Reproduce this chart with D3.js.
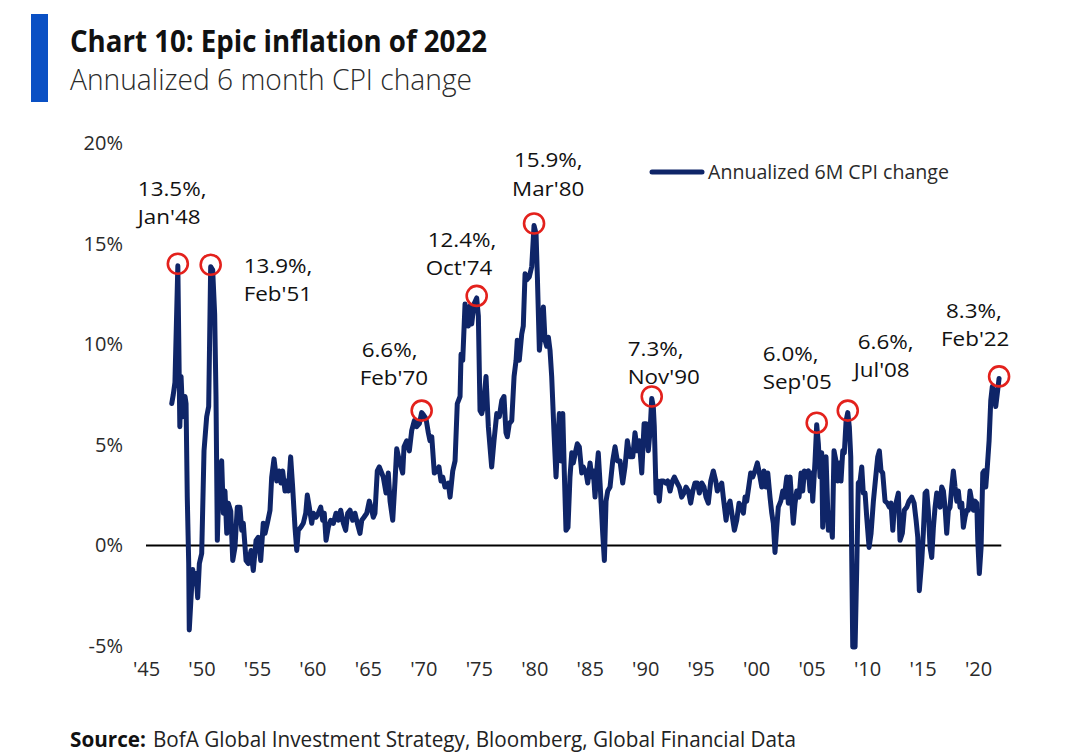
<!DOCTYPE html>
<html>
<head>
<meta charset="utf-8">
<script src="https://cdn.jsdelivr.net/npm/d3@7"></script>
<style>
  html, body { margin: 0; padding: 0; background: #ffffff; }
  svg { display: block; }
</style>
</head>
<body>
<svg id="chart" width="1074" height="754"></svg>
<script>
// ---------------- DATA ----------------
const title = "Chart 10: Epic inflation of 2022";
const subtitle = "Annualized 6 month CPI change";
const sourceLabel = "Source:";
const sourceText = "BofA Global Investment Strategy, Bloomberg, Global Financial  Data";
const seriesName = "Annualized 6M CPI change";

const yTicks = [-5, 0, 5, 10, 15, 20];
const yTickLabels = ["-5%", "0%", "5%", "10%", "15%", "20%"];
const xTicks = [1945, 1950, 1955, 1960, 1965, 1970, 1975, 1980, 1985, 1990, 1995, 2000, 2005, 2010, 2015, 2020];
const xTickLabels = ["'45", "'50", "'55", "'60", "'65", "'70", "'75", "'80", "'85", "'90", "'95", "'00", "'05", "'10", "'15", "'20"];

// decimal year of each reading
const dates = [
1947.32,1947.46,1947.61,1947.87,1948.05,1948.16,1948.31,1948.52,1948.61,1948.72,1948.85,1948.90,
1949.06,1949.21,1949.35,1949.51,1949.66,1949.81,1950.02,1950.23,1950.47,1950.65,1950.83,1951.01,
1951.19,1951.31,1951.43,1951.61,1951.82,1951.97,1952.12,1952.28,1952.42,1952.64,1952.82,1953.02,
1953.23,1953.47,1953.63,1953.77,1954.02,1954.22,1954.47,1954.67,1954.92,1955.12,1955.34,1955.57,
1955.73,1955.94,1956.18,1956.33,1956.54,1956.78,1956.99,1957.17,1957.32,1957.53,1957.68,1957.83,
1958.04,1958.22,1958.43,1958.59,1958.73,1958.95,1959.18,1959.40,1959.54,1959.72,1959.94,1960.08,
1960.33,1960.53,1960.75,1960.93,1961.07,1961.23,1961.43,1961.65,1961.89,1962.13,1962.34,1962.55,
1962.79,1963.00,1963.18,1963.39,1963.63,1963.84,1964.05,1964.29,1964.45,1964.65,1964.90,1965.13,
1965.28,1965.49,1965.64,1965.85,1966.03,1966.39,1966.64,1966.84,1967.00,1967.24,1967.45,1967.60,
1967.84,1968.14,1968.26,1968.50,1968.74,1968.95,1969.19,1969.40,1969.64,1969.85,1970.00,1970.24,
1970.45,1970.60,1970.76,1970.99,1971.21,1971.41,1971.59,1971.75,1971.95,1972.25,1972.41,1972.65,
1972.86,1973.06,1973.31,1973.40,1973.55,1973.76,1973.91,1974.06,1974.21,1974.36,1974.57,1974.81,
1974.96,1975.11,1975.26,1975.41,1975.65,1975.86,1976.16,1976.37,1976.62,1976.85,1977.07,1977.27,
1977.45,1977.57,1977.75,1977.97,1978.18,1978.36,1978.47,1978.65,1978.87,1979.01,1979.17,1979.32,
1979.55,1979.77,1979.98,1980.16,1980.28,1980.46,1980.67,1980.82,1980.97,1981.12,1981.27,1981.42,
1981.57,1981.78,1981.96,1982.12,1982.26,1982.41,1982.57,1982.71,1982.86,1983.04,1983.22,1983.38,
1983.52,1983.74,1983.88,1984.06,1984.28,1984.42,1984.67,1984.82,1985.03,1985.18,1985.32,1985.48,
1985.63,1985.77,1985.93,1986.17,1986.32,1986.47,1986.62,1986.83,1987.07,1987.28,1987.49,1987.73,
1987.97,1988.18,1988.39,1988.63,1988.88,1989.08,1989.29,1989.47,1989.69,1989.90,1990.08,1990.28,
1990.44,1990.59,1990.73,1990.82,1990.98,1991.13,1991.27,1991.43,1991.64,1991.85,1992.03,1992.24,
1992.45,1992.63,1992.84,1993.08,1993.29,1993.50,1993.68,1993.89,1994.10,1994.29,1994.49,1994.70,
1994.88,1995.10,1995.30,1995.48,1995.69,1995.91,1996.14,1996.36,1996.50,1996.68,1996.90,1997.04,
1997.29,1997.44,1997.65,1997.86,1998.04,1998.25,1998.46,1998.64,1998.85,1999.00,1999.15,1999.33,
1999.51,1999.69,1999.90,2000.11,2000.29,2000.51,2000.71,2000.89,2001.05,2001.25,2001.41,2001.55,
2001.70,2001.86,2002.00,2002.22,2002.40,2002.54,2002.76,2002.90,2003.06,2003.21,2003.35,2003.51,
2003.66,2003.87,2004.05,2004.20,2004.35,2004.50,2004.71,2004.86,2005.01,2005.10,2005.31,2005.46,
2005.61,2005.76,2005.91,2006.00,2006.15,2006.30,2006.51,2006.66,2006.87,2007.02,2007.20,2007.36,
2007.50,2007.65,2007.81,2007.95,2008.11,2008.26,2008.40,2008.53,2008.62,2008.71,2008.92,2009.07,
2009.21,2009.37,2009.52,2009.66,2009.82,2009.97,2010.18,2010.36,2010.57,2010.78,2010.96,2011.11,
2011.26,2011.41,2011.62,2011.83,2012.01,2012.16,2012.32,2012.46,2012.61,2012.82,2012.97,2013.18,
2013.36,2013.58,2013.78,2014.03,2014.24,2014.42,2014.57,2014.71,2014.93,2015.07,2015.23,2015.38,
2015.52,2015.68,2015.83,2015.98,2016.13,2016.28,2016.43,2016.58,2016.73,2016.88,2017.03,2017.18,
2017.33,2017.48,2017.63,2017.78,2017.93,2018.09,2018.23,2018.38,2018.54,2018.68,2018.83,2018.99,
2019.13,2019.28,2019.44,2019.58,2019.73,2019.89,2019.98,2020.12,2020.28,2020.43,2020.55,2020.70,
2020.84,2021.00,2021.15,2021.29,2021.45,2021.60,2021.74,2021.90
];

// annualized 6-month CPI change, %
const cpi = [
7.05,7.5,8.1,13.9,5.9,8.4,6.4,7.4,7.05,2.4,-0.9,-4.2,
-2.6,-1.2,-1.9,-1.4,-2.6,-0.9,-0.4,4.7,6.4,6.9,13.85,13.7,
11.5,7.4,0.25,3.7,4.2,1.6,2.7,0.6,2.1,1.7,-0.75,-0.1,
1.9,1.9,0.75,1.1,-0.75,-0.9,-0.25,-1.25,0.25,0.4,-0.75,1.1,
0.6,1.1,1.75,3.4,4.3,3.2,3.7,3.1,3.7,2.7,3.2,2.7,
4.4,2.9,0.9,-0.25,0.75,0.9,1.1,1.6,2.5,1.9,1.1,1.6,
1.4,1.6,1.9,1.25,1.6,0.25,0.9,1.25,1.1,1.6,1.25,1.75,
1.1,0.75,1.6,1.75,1.25,1.6,1.1,0.6,1.25,1.4,1.6,2.2,
1.9,1.4,1.6,3.7,3.9,3.4,2.6,3.6,2.2,1.25,3.2,4.8,
4.2,3.6,4.9,5.2,4.7,5.7,6.2,5.9,6.05,6.6,6.5,6.3,
5.6,5.2,5.4,3.6,3.7,3.9,3.2,3.4,2.9,3.1,2.4,3.7,
4.2,7.05,7.4,9.5,9.2,12.0,11.5,10.9,11.9,11.0,12.0,12.3,
11.4,6.7,6.55,6.9,8.4,5.9,3.9,5.2,6.55,6.4,7.2,7.4,
5.6,5.4,6.05,6.2,8.4,9.2,10.2,9.2,10.5,10.9,13.5,13.2,
13.35,13.85,15.9,15.5,13.35,9.7,10.9,11.85,10.2,9.9,10.35,9.7,
8.4,5.6,3.4,5.2,6.55,4.2,6.55,3.6,0.75,0.9,3.4,4.6,
4.1,4.7,5.05,4.9,3.6,3.9,3.6,3.1,4.1,3.4,3.7,2.4,
3.7,4.6,3.1,0.6,-0.75,2.2,2.7,2.9,4.2,4.9,4.2,4.2,
3.1,3.9,5.2,4.4,4.4,5.6,4.7,5.2,3.6,6.05,6.05,4.7,
5.7,7.3,6.9,5.9,2.6,3.2,2.2,3.2,3.2,3.1,3.2,2.7,
3.2,3.4,3.15,2.9,2.4,2.6,2.9,2.7,2.1,2.7,3.1,3.1,
2.6,3.1,2.9,2.4,2.1,3.2,3.7,3.2,2.7,2.9,3.1,2.4,
1.25,1.9,2.2,1.4,0.75,1.25,2.1,1.9,1.6,2.4,2.2,2.9,
3.6,3.4,3.7,4.1,3.6,2.9,3.7,2.9,3.6,2.4,1.6,1.1,
-0.35,0.9,1.9,2.2,2.7,2.4,3.4,2.1,3.4,2.2,1.1,2.1,
2.7,2.4,3.6,2.7,3.7,3.4,3.7,2.7,3.6,2.2,4.2,6.0,
5.05,3.4,4.6,0.9,2.2,4.4,0.75,1.6,0.4,4.7,4.2,3.2,
4.1,3.2,4.7,4.6,6.2,6.6,5.9,4.4,-0.75,-5.05,-5.05,-1.1,
3.1,3.2,3.9,2.6,2.6,1.4,-0.1,0.6,2.2,3.4,4.4,4.7,
3.7,3.6,2.2,2.1,1.9,2.1,0.75,1.9,2.1,2.6,0.25,0.6,
1.75,1.9,2.2,2.4,2.1,1.25,0.4,-2.25,-0.75,0.6,2.6,2.7,
1.75,-0.1,-0.6,0.9,1.9,2.6,2.2,1.9,2.9,2.7,1.9,0.6,
1.75,1.9,2.9,3.7,2.9,2.2,2.7,1.9,2.1,0.9,1.4,1.75,
1.75,2.7,2.2,1.75,2.2,2.1,0.25,-1.4,-0.1,3.6,3.7,2.9,
3.9,5.2,7.2,7.9,7.55,6.9,7.55,8.3
];

// highlighted peaks
const peakValues = ["13.5%,", "13.9%,", "6.6%,", "12.4%,", "15.9%,", "7.3%,", "6.0%,", "6.6%,", "8.3%,"];
const peakDates = ["Jan'48", "Feb'51", "Feb'70", "Oct'74", "Mar'80", "Nov'90", "Sep'05", "Jul'08", "Feb'22"];
const peakYears = [1948.0, 1951.1, 1970.1, 1974.8, 1980.2, 1990.8, 2005.7, 2008.5, 2022.1];

// ---------------- LAYOUT ----------------
// label offsets relative to circle centre: [dx1, dy1, dx2, dy2]
const labelOffsets = [
  [-40, -75, -40, -47],
  [33, 1, 33, 29],
  [-60, -61, -62, -33],
  [-49, -56, -51, -28],
  [-20, -64, -22, -35],
  [-24, -48, -24, -20],
  [-54, -69, -54, -41],
  [10, -69, 6, -41],
  [-53, -66, -58, -38]
];

const svg = d3.select("#chart");
const plot = { left: 146, right: 978, top: 143, bottom: 646 }; // x-range maps '45..'20, y-range 20%..-5%
const NAVY = "#0f2568";
const FONT = "'Open Sans', 'Noto Sans', 'DejaVu Sans', sans-serif";

const x = d3.scaleLinear().domain([1945, 2020]).range([plot.left, plot.right]);
const y = d3.scaleLinear().domain([-5, 20]).range([plot.bottom, plot.top]);

// header
svg.append("rect").attr("x", 31).attr("y", 14).attr("width", 17).attr("height", 88).attr("fill", "#0a50c4");
svg.append("text").attr("x", 70).attr("y", 52).text(title)
  .attr("font-family", FONT).attr("font-weight", 700).attr("font-size", 30).attr("fill", "#111")
  .attr("textLength", 417).attr("lengthAdjust", "spacingAndGlyphs");
svg.append("text").attr("x", 70).attr("y", 90).text(subtitle)
  .attr("font-family", FONT).attr("font-weight", 300).attr("font-size", 29).attr("fill", "#2a2a2a")
  .attr("textLength", 402).attr("lengthAdjust", "spacingAndGlyphs");

// y axis
const yAxis = d3.axisLeft(y).tickValues(yTicks).tickSize(0).tickPadding(0)
  .tickFormat((d, i) => yTickLabels[i]);
const gy = svg.append("g").attr("transform", "translate(123,0)").call(yAxis);
gy.select(".domain").remove();
gy.selectAll("text").attr("font-family", FONT).attr("font-size", 20).attr("fill", "#2a2a2a");

// x axis
const xAxis = d3.axisBottom(x).tickValues(xTicks).tickSize(0).tickPadding(0)
  .tickFormat((d, i) => xTickLabels[i]);
const gx = svg.append("g").attr("transform", "translate(0,662)").call(xAxis);
gx.select(".domain").remove();
gx.selectAll("text").attr("font-family", FONT).attr("font-size", 20).attr("fill", "#2a2a2a");

// zero line
svg.append("line")
  .attr("x1", x(1945)).attr("x2", x(2022.1))
  .attr("y1", y(0)).attr("y2", y(0))
  .attr("stroke", "#000").attr("stroke-width", 2);

// series line
const pts = dates.map((d, i) => [d, cpi[i]]);
const line = d3.line().x(d => x(d[0])).y(d => y(d[1]));
svg.append("path").datum(pts).attr("d", line)
  .attr("fill", "none").attr("stroke", NAVY).attr("stroke-width", 5)
  .attr("stroke-linejoin", "round").attr("stroke-linecap", "round");

// peaks
function stretchedText(tx, ty, str) {
  const t = svg.append("text").attr("x", tx).attr("y", ty).attr("dy", "0.36em")
    .text(str).attr("font-family", FONT).attr("font-size", 20).attr("fill", "#111");
  const len = t.node().getComputedTextLength();
  t.attr("textLength", len * 1.12).attr("lengthAdjust", "spacingAndGlyphs");
  return t;
}
peakYears.forEach((py, i) => {
  let best = null;
  pts.forEach(p => {
    if (Math.abs(p[0] - py) <= 0.5 && (!best || p[1] > best[1])) best = p;
  });
  const cx = x(best[0]), cy = y(best[1]) - 2;
  svg.append("circle").attr("cx", cx).attr("cy", cy).attr("r", 10)
    .attr("fill", "none").attr("stroke", "#e3211c").attr("stroke-width", 2.6);
  const o = labelOffsets[i];
  stretchedText(cx + o[0], cy + o[1], peakValues[i]);
  stretchedText(cx + o[2], cy + o[3], peakDates[i]);
});

// legend
svg.append("line").attr("x1", 652).attr("x2", 702).attr("y1", 172).attr("y2", 172)
  .attr("stroke", NAVY).attr("stroke-width", 5).attr("stroke-linecap", "round");
svg.append("text").attr("x", 708).attr("y", 172).attr("dy", "0.36em").text(seriesName)
  .attr("font-family", FONT).attr("font-size", 20).attr("fill", "#2a2a2a")
  .attr("textLength", 241).attr("lengthAdjust", "spacingAndGlyphs");

// source
svg.append("text").attr("x", 70).attr("y", 747).text(sourceLabel)
  .attr("font-family", FONT).attr("font-weight", 700).attr("font-size", 21).attr("fill", "#111")
  .attr("textLength", 76).attr("lengthAdjust", "spacingAndGlyphs");
svg.append("text").attr("x", 153).attr("y", 747).text(sourceText)
  .attr("font-family", FONT).attr("font-size", 21).attr("fill", "#222")
  .attr("textLength", 643).attr("lengthAdjust", "spacingAndGlyphs");
</script>
</body>
</html>
